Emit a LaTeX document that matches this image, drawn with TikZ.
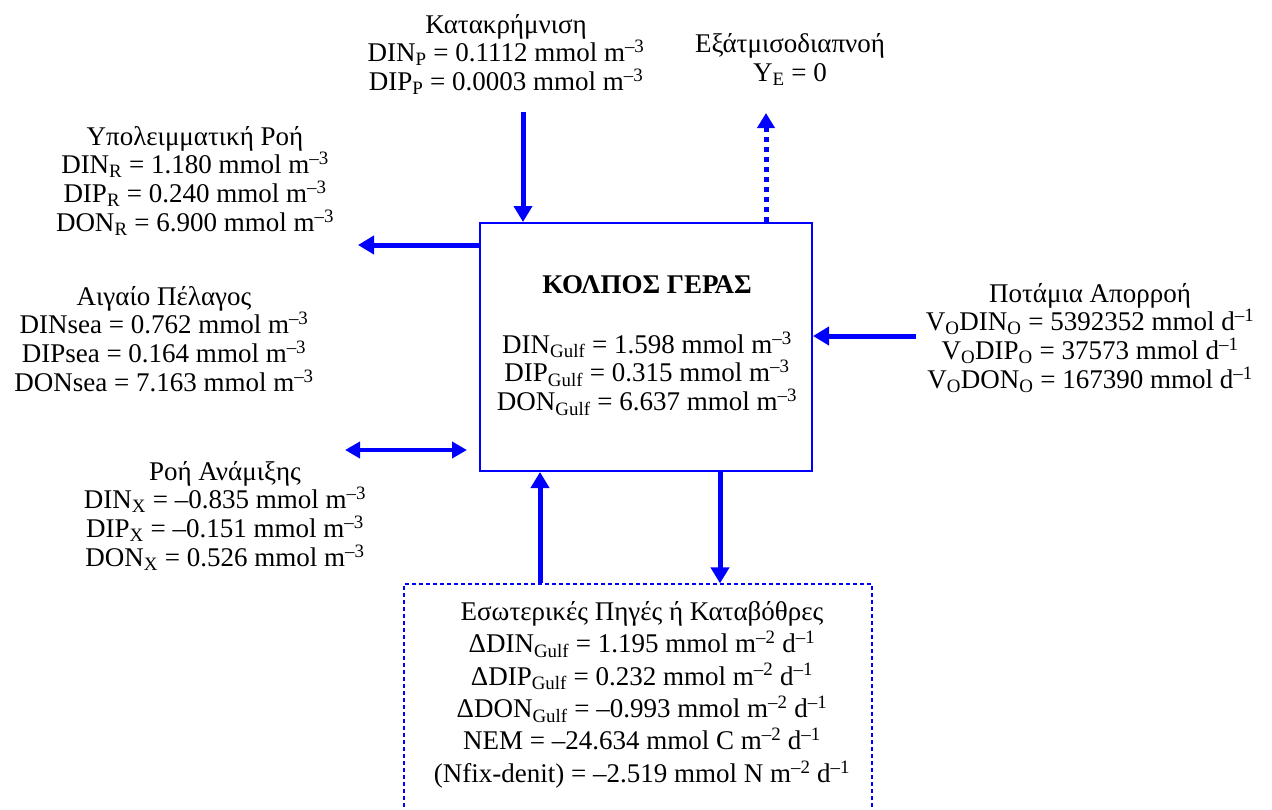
\documentclass[tikz,border=0pt]{standalone}
\usepackage{fontspec}
\setmainfont{Liberation Serif}
\usetikzlibrary{arrows.meta}
\newcommand{\sbs}[1]{\textsubscript{#1}}
\newcommand{\sps}[1]{\textsuperscript{#1}}
\newcommand{\topstrut}{\rule{0pt}{22pt}}
\begin{document}
\begin{tikzpicture}[x=1pt,y=-1pt,
  lbl/.style={align=center, inner sep=0pt, anchor=north,
              font=\fontsize{27}{28.7}\selectfont},
  gulfbox/.style={draw=blue, line width=2pt, inner sep=0pt,
              minimum width=332pt, minimum height=248pt},
  sinkframe/.style={draw=blue, line width=1.2pt, dash pattern=on 4pt off 3pt,
              minimum width=468pt, minimum height=266pt, inner sep=0pt},
  flow/.style={draw=blue, line width=5pt, -{Triangle[width=18pt,length=16pt]}},
  evapflow/.style={draw=blue, line width=5pt, dash pattern=on 5pt off 5pt,
              -{Triangle[width=17pt,length=15pt]}},
  mixflow/.style={draw=blue, line width=4pt,
              {Triangle[width=16pt,length=15pt]}-{Triangle[width=16pt,length=15pt]}}]
\useasboundingbox (0,0) rectangle (1272,809);

% central basin
\node[gulfbox] (gulf) at (646,347) {};
\node[lbl] (gulftext) at (647,271) {\topstrut\textbf{ΚΟΛΠΟΣ ΓΕΡΑΣ}\\[31.3pt]
  DIN\sbs{Gulf} = 1.598 mmol m\sps{–3}\\
  DIP\sbs{Gulf} = 0.315 mmol m\sps{–3}\\
  DON\sbs{Gulf} = 6.637 mmol m\sps{–3}};

% internal sources and sinks (frame runs off the lower edge)
\node[sinkframe] (sinkbox) at (638,717) {};
\node[lbl, font=\fontsize{27}{32.4}\selectfont] (sinks) at (642,598)
  {\topstrut Εσωτερικές Πηγές ή Καταβόθρες\\
   ΔDIN\sbs{Gulf} = 1.195 mmol m\sps{–2} d\sps{–1}\\
   ΔDIP\sbs{Gulf} = 0.232 mmol m\sps{–2} d\sps{–1}\\
   ΔDON\sbs{Gulf} = –0.993 mmol m\sps{–2} d\sps{–1}\\
   NEM = –24.634 mmol C m\sps{–2} d\sps{–1}\\
   (Nfix-denit) = –2.519 mmol N m\sps{–2} d\sps{–1}};

% outside terms
\node[lbl] (precip) at (506,11) {\topstrut Κατακρήμνιση\\
  DIN\sbs{P} = 0.1112 mmol m\sps{–3}\\
  DIP\sbs{P} = 0.0003 mmol m\sps{–3}};
\node[lbl, font=\fontsize{27}{29.5}\selectfont] (evap) at (790,30)
  {\topstrut Εξάτμισοδιαπνοή\\ Y\sbs{E} = 0};
\node[lbl] (resid) at (195,123) {\topstrut Υπολειμματική Ροή\\
  DIN\sbs{R} = 1.180 mmol m\sps{–3}\\
  DIP\sbs{R} = 0.240 mmol m\sps{–3}\\
  DON\sbs{R} = 6.900 mmol m\sps{–3}};
\node[lbl] (sea) at (164,283) {\topstrut Αιγαίο Πέλαγος\\
  DINsea = 0.762 mmol m\sps{–3}\\
  DIPsea = 0.164 mmol m\sps{–3}\\
  DONsea = 7.163 mmol m\sps{–3}};
\node[lbl] (mix) at (225,458) {\topstrut Ροή Ανάμιξης\\
  DIN\sbs{X} = –0.835 mmol m\sps{–3}\\
  DIP\sbs{X} = –0.151 mmol m\sps{–3}\\
  DON\sbs{X} = 0.526 mmol m\sps{–3}};
\node[lbl] (river) at (1090,280) {\topstrut Ποτάμια Απορροή\\
  V\sbs{O}DIN\sbs{O} = 5392352 mmol d\sps{–1}\\
  V\sbs{O}DIP\sbs{O} = 37573 mmol d\sps{–1}\\
  V\sbs{O}DON\sbs{O} = 167390 mmol d\sps{–1}};

% arrow ends
\coordinate (precipin) at (523,112);
\coordinate (evapout) at (766,113);
\coordinate (residout) at (358,245);
\coordinate (mixL) at (345,450);
\coordinate (mixR) at (467,450);
\coordinate (riverin) at (916,336);

% fluxes
\draw[flow] (precipin) -- (precipin |- gulf.north);
\draw[evapflow] (evapout |- gulf.north) -- (evapout);
\draw[flow] (residout -| gulf.west) -- (residout);
\draw[mixflow] (mixL) -- (mixR);
\draw[flow] (riverin) -- (riverin -| gulf.east);
\draw[flow] ([xshift=-98pt]sinkbox.north) -- ([xshift=-106pt]gulf.south);
\draw[flow] ([xshift=74pt]gulf.south) -- ([xshift=82pt]sinkbox.north);
\end{tikzpicture}
\end{document}
